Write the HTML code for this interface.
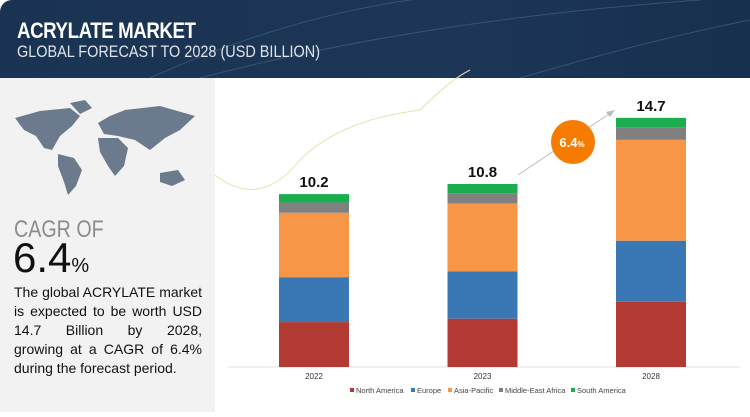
<!DOCTYPE html>
<html><head><meta charset="utf-8"><style>
body{margin:0;width:750px;height:417px;overflow:hidden;background:#fff;font-family:"Liberation Sans",sans-serif;position:relative}
#hdr{position:absolute;left:0;top:0;width:750px;height:78px;background:linear-gradient(90deg,#1a3352,#1d3657 60%,#16304d);border-top-left-radius:12px;overflow:hidden}
#hdr h1{position:absolute;left:17px;top:18px;margin:0;color:#fff;font-size:22px;font-weight:bold;letter-spacing:-0.5px;transform:scaleX(0.85);transform-origin:left}
#hdr h2{position:absolute;left:17px;top:42px;margin:0;color:#dfe4ea;font-size:17px;font-weight:normal;transform:scaleX(0.85);transform-origin:left}
#left{position:absolute;left:0;top:78px;width:215px;height:334px;background:#f2f2f2}
#cagr{position:absolute;left:14px;top:138px;color:#8c8c8c;font-size:24px;transform:scaleX(0.82);transform-origin:left}
#big{position:absolute;left:13px;top:156px;color:#111;font-size:42px}
#big span{font-size:20px}
#para{position:absolute;left:14px;top:205px;width:188px;font-size:14px;line-height:19px;color:#111}
#para div{text-align:justify;text-align-last:justify;white-space:nowrap}
#para div.last{text-align-last:left}
</style></head><body>
<div id="hdr">
<svg width="750" height="78" style="position:absolute;left:0;top:0">
<path d="M150 78 Q300 10 450 -5" stroke="#5a7290" stroke-width="1" fill="none" opacity="0.5"/>
<path d="M200 78 Q420 20 700 0" stroke="#5a7290" stroke-width="1" fill="none" opacity="0.5"/>
<path d="M520 78 Q650 40 750 20" stroke="#5a7290" stroke-width="1" fill="none" opacity="0.5"/>
</svg>
<h1>ACRYLATE MARKET</h1>
<h2>GLOBAL FORECAST TO 2028 (USD BILLION)</h2>
</div>
<div id="left">
<svg width="215" height="140" style="position:absolute;left:0;top:0">
<g fill="#6b7a8d">
<path d="M15 40 L40 33 L70 30 L80 38 L72 48 L60 58 L52 72 L44 70 L36 58 L24 52 Z"/>
<path d="M70 25 L85 22 L92 30 L80 36 Z"/>
<path d="M58 76 L74 80 L82 92 L76 108 L68 117 L64 104 L58 88 Z"/>
<path d="M98 45 L110 38 L125 32 L160 28 L195 38 L180 52 L165 60 L150 72 L135 62 L118 58 L104 56 Z"/>
<path d="M98 60 L118 60 L128 70 L124 88 L115 98 L108 88 L100 74 Z"/>
<path d="M160 95 L178 92 L185 102 L172 108 L160 104 Z"/>
</g>
</svg>
<div id="cagr">CAGR OF</div>
<div id="big">6.4<span>%</span></div>
<div id="para">
<div>The global ACRYLATE market</div>
<div>is expected to be worth USD</div>
<div>14.7 Billion by 2028,</div>
<div>growing at a CAGR of 6.4%</div>
<div class="last">during the forecast period.</div>
</div>
</div>
<svg id="chart" width="750" height="417" style="position:absolute;left:0;top:0">
<path d="M215 175 Q260 210 300 160 Q340 120 420 110 Q450 80 470 70" stroke="#e8e0b0" stroke-width="1" fill="none"/>
</svg>
<script>
const categories=["2022","2023","2028"];
const seriesNames=["North America","Europe","Asia-Pacific","Middle-East Africa","South America"];
const northAmerica=[2.65,2.85,3.85];
const europe=[2.65,2.8,3.6];
const asiaPacific=[3.8,4.0,5.95];
const middleEastAfrica=[0.6,0.6,0.75];
const southAmerica=[0.5,0.55,0.55];
const totals=["10.2","10.8","14.7"];
const colors=["#b33a32","#3a78b5","#f79646","#808080","#1aae4e"];
const series=[northAmerica,europe,asiaPacific,middleEastAfrica,southAmerica];
const NS="http://www.w3.org/2000/svg";
const svg=document.getElementById('chart');
const baseY=367,scale=16.95,barW=70;
const xCenter=i=>314+i*168.5;
const y=v=>baseY-v*scale;
function mk(t,a){const e=document.createElementNS(NS,t);for(const k in a)e.setAttribute(k,a[k]);svg.appendChild(e);return e;}
const ax=mk('line',{x1:228,y1:baseY,x2:740,y2:baseY,stroke:'#e0e0e0'});


categories.forEach((c,i)=>{
  let cum=0;
  series.forEach((s,j)=>{
    const r=mk('rect',{x:xCenter(i)-barW/2,y:y(cum+s[i]),width:barW,height:s[i]*scale,fill:colors[j]});
    
    
    cum+=s[i];
  });
  const t=mk('text',{x:xCenter(i),y:y(cum)-7,'text-anchor':'middle','font-size':15,'font-weight':'bold',fill:'#111'});
  t.textContent=totals[i];
  
  
  const l=mk('text',{x:xCenter(i),y:baseY+12,'text-anchor':'middle','font-size':8,fill:'#333'});
  l.textContent=c;
  
  
});
const ar=mk('line',{x1:518,y1:175,x2:612,y2:112,stroke:'#bbb','stroke-width':1});


const ah=mk('path',{d:'M615 110 L606 112 L610 117 Z',fill:'#bbb'});


const bub=mk('circle',{cx:573,cy:142,r:22,fill:'#f57c00'});


const bt=mk('text',{x:572,y:147,'text-anchor':'middle','font-size':13,'font-weight':'bold',fill:'#fff'});
bt.innerHTML='6.4<tspan font-size="8">%</tspan>';


const legX=[350,411,448,499,571];
seriesNames.forEach((n,j)=>{
  const r=mk('rect',{x:legX[j],y:388,width:4,height:4,fill:colors[j]});
  
  
  const t=mk('text',{x:legX[j]+6,y:393,'font-size':7.5,fill:'#444'});
  t.textContent=n;
  
  
});
</script>
</body></html>
